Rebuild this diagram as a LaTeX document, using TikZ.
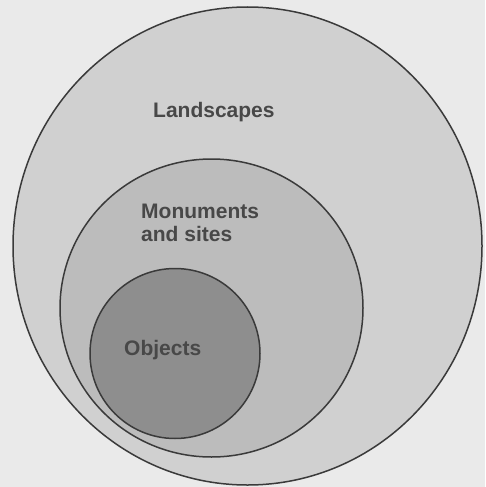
\documentclass[tikz,border=0pt]{standalone}
\usepackage{fontspec}
\setmainfont{Liberation Sans}
\usepackage{xcolor}
\usepackage{tikz}
\usetikzlibrary{positioning}

\definecolor{paper}{RGB}{234,234,234}
\definecolor{landfill}{RGB}{208,208,208}
\definecolor{monfill}{RGB}{188,188,188}
\definecolor{objfill}{RGB}{142,142,142}
\definecolor{inkgray}{RGB}{58,58,58}
\definecolor{labgray}{RGB}{72,72,72}

\begin{document}
\begin{tikzpicture}[x=1pt, y=-1pt,
  ring/.style={draw=inkgray, line width=1.5pt},
  lbl/.style={anchor=base west, inner sep=0pt, text=labgray,
    font=\fontsize{21}{24}\selectfont\bfseries, align=left}
]
\fill[paper] (0,0) rectangle (485,487);
\useasboundingbox (0,0) rectangle (485,487);

% nested areas
\draw[ring, fill=landfill] (247.5,246) ellipse [x radius=234.5, y radius=239];
\draw[ring, fill=monfill] (211.5,308) ellipse [x radius=151.5, y radius=149];
\draw[ring, fill=objfill] (175,353.5) circle [radius=85];

\node[lbl] (land) at (153,117) {Landscapes};
\node[lbl] (mon) at (141,218) {Monuments};
\node[lbl] (sites) at (141,241) {and sites};
\node[lbl] (obj) at (124,355) {Objects};
\end{tikzpicture}
\end{document}
